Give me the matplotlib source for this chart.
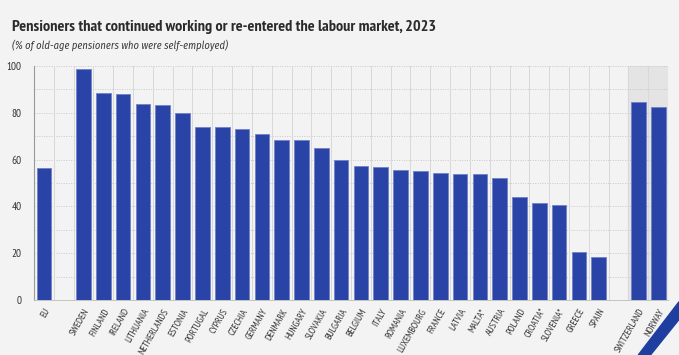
import matplotlib.pyplot as plt
from matplotlib.patches import Polygon
import numpy as np

# data
eu_label = ['EU']
eu_values = [56.5]
countries = ['SWEDEN', 'FINLAND', 'IRELAND', 'LITHUANIA', 'NETHERLANDS', 'ESTONIA',
             'PORTUGAL', 'CYPRUS', 'CZECHIA', 'GERMANY', 'DENMARK', 'HUNGARY',
             'SLOVAKIA', 'BULGARIA', 'BELGIUM', 'ITALY', 'ROMANIA', 'LUXEMBOURG',
             'FRANCE', 'LATVIA', 'MALTA*', 'AUSTRIA', 'POLAND', 'CROATIA*',
             'SLOVENIA*', 'GREECE', 'SPAIN']
country_values = [98.7, 88.3, 88.0, 83.6, 83.2, 79.9, 73.9, 73.8, 72.9, 70.8, 68.5,
                  68.5, 65.1, 60.0, 57.4, 56.7, 55.6, 55.1, 54.3, 53.8, 53.7, 52.0,
                  44.0, 41.3, 40.5, 20.4, 18.4]
efta = ['SWITZERLAND', 'NORWAY']
efta_values = [84.8, 82.5]

labels = eu_label + [''] + countries + [''] + efta
values = eu_values + [np.nan] + country_values + [np.nan] + efta_values
x = np.arange(len(labels))

bg = '#f3f3f3'
bar_color = '#2a43a6'
narrow = ['PT Sans Narrow', 'DejaVu Sans']

fig = plt.figure(figsize=(6.79, 3.55), dpi=100, facecolor=bg)
ax = fig.add_axes([0.050, 0.155, 0.934, 0.659])
ax.set_facecolor(bg)

# shaded EFTA block
ax.axvspan(len(labels) - 2.5, len(labels) - 0.5, color='#e4e4e4', zorder=0)

ax.bar(x, values, width=0.74, color=bar_color, edgecolor='#6f82c8', linewidth=0.6, zorder=3)

ax.set_xlim(-0.5, len(labels) - 0.5)
ax.set_ylim(0, 100)

# grid
for yv in range(10, 101, 10):
    ax.axhline(yv, color='#c8c8c8', linestyle=(0, (1, 1.5)), linewidth=0.7, zorder=1)
for xv in np.arange(0.5, len(labels) - 0.5, 1):
    ax.axvline(xv, color='#d8d8d8', linewidth=0.7, zorder=1)

ax.set_yticks(range(0, 101, 20))
ax.set_yticklabels([str(v) for v in range(0, 101, 20)], fontsize=8, color='#333333', family=narrow)
ax.set_xticks([i for i, l in enumerate(labels) if l])
ax.set_xticklabels([l for l in labels if l], rotation=60, ha='right', rotation_mode='anchor',
                   fontsize=7, color='#333333', family=narrow)
ax.tick_params(axis='y', length=0, pad=9)
ax.tick_params(axis='x', length=0, pad=5)
for side in ['top', 'right']:
    ax.spines[side].set_visible(False)
ax.spines['left'].set_color('#999999')
ax.spines['left'].set_linewidth(0.8)
ax.spines['bottom'].set_color('#bbbbbb')
ax.spines['bottom'].set_linewidth(0.6)

fig.text(0.018, 0.925, 'Pensioners that continued working or re-entered the labour market, 2023',
         fontsize=11.7, fontweight='bold', color='#2b2b2b', family=narrow, va='center')
fig.text(0.018, 0.873, '(% of old-age pensioners who were self-employed)',
         fontsize=7.5, style='italic', color='#3a3a3a', family=['Fira Sans Condensed', 'DejaVu Sans'],
         va='center')

# corner logo stripe
fig.patches.append(Polygon([[0.958, 0.0], [1.0, 0.1], [1.0, 0.15], [0.94, 0.0]],
                           closed=True, transform=fig.transFigure, color='#1f3fa0'))

fig.savefig('out.png', dpi=100, facecolor=bg)
